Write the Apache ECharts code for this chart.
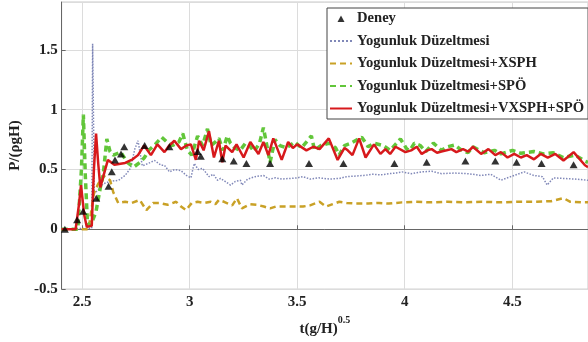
<!DOCTYPE html>
<html><head><meta charset="utf-8">
<script src="https://cdn.jsdelivr.net/npm/echarts@6/dist/echarts.min.js"></script>
<style>html,body{margin:0;padding:0;background:#fff}#c{width:588px;height:342px}</style>
</head><body><div id="c"></div>
<script>
const seriesNames = ['Deney','Yogunluk Düzeltmesi','Yogunluk Düzeltmesi+XSPH','Yogunluk Düzeltmesi+SPÖ','Yogunluk Düzeltmesi+VXSPH+SPÖ'];
const xTicks = [2.5, 3, 3.5, 4, 4.5];
const yTicks = [-0.5, 0, 0.5, 1, 1.5];

const deneyX = [2.42,2.477,2.505,2.566,2.623,2.638,2.653,2.681,2.696,2.791,2.906,3.037,3.052,3.152,3.205,3.264,3.374,3.555,3.715,3.952,4.102,4.282,4.421,4.52,4.636,4.785];
const deneyY = [0,0.08,0.15,0.26,0.36,0.48,0.58,0.63,0.69,0.70,0.69,0.65,0.61,0.59,0.57,0.55,0.55,0.55,0.55,0.55,0.56,0.57,0.57,0.56,0.55,0.54];

const blueX = [2.405,2.545,2.549,2.553,2.557,2.575,2.598,2.63,2.67,2.70,2.725,2.745,2.76,2.78,2.807,2.837,2.868,2.883,2.906,2.93,2.96,2.985,3.006,3.021,3.04,3.06,3.09,3.11,3.13,3.144,3.165,3.19,3.213,3.236,3.243,3.27,3.305,3.343,3.37,3.40,3.43,3.466,3.50,3.527,3.56,3.60,3.65,3.696,3.73,3.773,3.81,3.849,3.89,3.926,3.96,3.987,4.03,4.079,4.125,4.171,4.23,4.294,4.355,4.40,4.447,4.493,4.555,4.60,4.64,4.662,4.691,4.738,4.79,4.852];
const blueY = [0,0.01,1.55,1.55,0.3,0.33,0.38,0.40,0.41,0.45,0.51,0.67,0.74,0.53,0.55,0.575,0.535,0.535,0.48,0.50,0.49,0.45,0.43,0.55,0.50,0.51,0.44,0.46,0.41,0.425,0.40,0.37,0.40,0.41,0.37,0.42,0.44,0.45,0.42,0.43,0.42,0.425,0.43,0.44,0.42,0.43,0.42,0.425,0.44,0.445,0.45,0.46,0.455,0.465,0.47,0.48,0.465,0.48,0.485,0.465,0.47,0.465,0.45,0.46,0.41,0.44,0.48,0.45,0.44,0.37,0.43,0.425,0.42,0.41];

const goldX = [2.405,2.53,2.555,2.575,2.598,2.63,2.645,2.668,2.70,2.73,2.768,2.799,2.83,2.86,2.898,2.937,2.96,2.983,3.01,3.037,3.07,3.098,3.12,3.136,3.16,3.198,3.22,3.243,3.28,3.313,3.345,3.374,3.40,3.435,3.48,3.527,3.56,3.604,3.634,3.665,3.696,3.73,3.773,3.83,3.88,3.926,3.987,4.049,4.12,4.2,4.28,4.36,4.44,4.52,4.60,4.68,4.738,4.77,4.82,4.852];
const goldY = [0,0,0.3,0.38,0.45,0.41,0.31,0.22,0.23,0.22,0.245,0.16,0.22,0.22,0.205,0.23,0.19,0.16,0.22,0.23,0.22,0.23,0.21,0.245,0.23,0.20,0.26,0.175,0.21,0.205,0.19,0.175,0.19,0.19,0.19,0.19,0.20,0.23,0.19,0.21,0.23,0.22,0.215,0.215,0.22,0.215,0.225,0.23,0.225,0.23,0.225,0.23,0.225,0.23,0.23,0.235,0.26,0.23,0.225,0.225];

const greenX = [2.405,2.48,2.497,2.506,2.515,2.525,2.54,2.565,2.585,2.598,2.615,2.63,2.645,2.68,2.71,2.74,2.77,2.79,2.81,2.84,2.87,2.90,2.92,2.95,2.968,2.99,3.01,3.037,3.06,3.083,3.10,3.12,3.136,3.155,3.175,3.19,3.21,3.235,3.26,3.282,3.30,3.325,3.343,3.374,3.397,3.42,3.45,3.489,3.52,3.566,3.581,3.61,3.65,3.679,3.695,3.72,3.75,3.80,3.83,3.857,3.90,3.933,3.98,4.01,4.024,4.045,4.072,4.098,4.133,4.171,4.2,4.233,4.265,4.294,4.317,4.369,4.417,4.447,4.501,4.54,4.6,4.645,4.691,4.737,4.792,4.838,4.852];
const greenY = [0,0,0.5,0.96,0.45,0.05,0.03,0.15,0.35,0.45,0.755,0.65,0.62,0.645,0.56,0.52,0.56,0.6,0.66,0.71,0.77,0.72,0.70,0.73,0.80,0.66,0.62,0.78,0.70,0.84,0.70,0.73,0.76,0.66,0.78,0.72,0.68,0.66,0.72,0.69,0.65,0.72,0.85,0.56,0.75,0.70,0.68,0.73,0.68,0.78,0.66,0.70,0.72,0.68,0.62,0.70,0.72,0.77,0.69,0.72,0.70,0.66,0.755,0.67,0.66,0.72,0.70,0.65,0.72,0.66,0.69,0.705,0.66,0.64,0.69,0.64,0.66,0.63,0.66,0.635,0.65,0.63,0.64,0.60,0.62,0.57,0.56];

const redX = [2.405,2.47,2.485,2.495,2.51,2.522,2.545,2.555,2.565,2.575,2.585,2.60,2.62,2.65,2.70,2.735,2.76,2.788,2.82,2.85,2.883,2.905,2.929,2.96,2.985,3.006,3.029,3.044,3.065,3.09,3.113,3.136,3.152,3.167,3.198,3.218,3.251,3.282,3.32,3.343,3.366,3.389,3.428,3.458,3.48,3.50,3.543,3.575,3.604,3.647,3.688,3.72,3.735,3.757,3.788,3.818,3.857,3.887,3.91,3.932,3.957,4.003,4.03,4.056,4.079,4.105,4.125,4.15,4.171,4.195,4.217,4.24,4.271,4.295,4.317,4.355,4.389,4.421,4.447,4.478,4.509,4.54,4.567,4.601,4.632,4.665,4.70,4.738,4.785,4.838,4.852];
const redY = [0,0,0.2,0.37,0.12,0.02,0.03,0.5,0.8,0.55,0.35,0.45,0.58,0.54,0.555,0.585,0.62,0.70,0.62,0.71,0.645,0.70,0.74,0.67,0.70,0.71,0.58,0.74,0.66,0.82,0.60,0.74,0.56,0.70,0.645,0.71,0.60,0.73,0.63,0.73,0.62,0.76,0.58,0.73,0.68,0.71,0.66,0.69,0.67,0.76,0.58,0.68,0.66,0.62,0.76,0.60,0.71,0.63,0.67,0.63,0.69,0.645,0.66,0.69,0.63,0.66,0.67,0.64,0.65,0.66,0.67,0.645,0.67,0.65,0.69,0.63,0.67,0.62,0.645,0.60,0.63,0.60,0.62,0.585,0.63,0.60,0.63,0.575,0.645,0.535,0.52];

const zip = (xs, ys) => xs.map((x, i) => [x, ys[i]]);
const FONT = 'Liberation Serif';
const hideSym = {opacity: 0};

const chart = echarts.init(document.getElementById('c'), null, {renderer: 'canvas'});
chart.setOption({
  animation: false,
  backgroundColor: '#fff',
  grid: {left: 56, right: 0, top: 2, bottom: 50, show: true, borderColor: '#c8c8c8', borderWidth: 1},
  legend: {
    orient: 'vertical', left: 327, top: 8,
    padding: [3, 4, 3, 2], itemGap: 7.5, itemWidth: 22, itemHeight: 14,
    backgroundColor: '#fff', borderColor: '#444', borderWidth: 1,
    textStyle: {fontFamily: FONT, fontWeight: 'bold', fontSize: 14.6, color: '#222'},
    data: [
      {name: seriesNames[0], icon: 'path://M0,0M22,14M7.5,10.5L14.5,10.5L11,4Z'},
      {name: seriesNames[1], itemStyle: hideSym},
      {name: seriesNames[2], itemStyle: hideSym},
      {name: seriesNames[3], itemStyle: hideSym},
      {name: seriesNames[4], itemStyle: hideSym}
    ]
  },
  xAxis: {
    type: 'value', min: 2.405, max: 4.852,
    name: '{b|t(g/H)}{s|0.5}', nameLocation: 'middle', nameGap: 25,
    nameTextStyle: {rich: {
      b: {fontFamily: FONT, fontWeight: 'bold', fontSize: 15, color: '#222', lineHeight: 22, verticalAlign: 'bottom'},
      s: {fontFamily: FONT, fontWeight: 'bold', fontSize: 10, color: '#222', lineHeight: 12, verticalAlign: 'top'}
    }},
    axisLine: {show: true, lineStyle: {color: '#666', width: 1}},
    axisTick: {show: true, inside: true, length: 4, customValues: xTicks, lineStyle: {color: '#666'}},
    axisLabel: {customValues: xTicks, margin: 6, fontFamily: FONT, fontWeight: 'bold', fontSize: 15, color: '#222',
      formatter: v => String(+v.toFixed(2))},
    splitLine: {show: true, lineStyle: {color: '#dcdcdc', width: 1}}
  },
  yAxis: {
    type: 'value', min: -0.5, max: 1.9, interval: 0.5,
    name: 'P/(ρgH)', nameLocation: 'middle', nameGap: 34, nameRotate: 90,
    nameTextStyle: {fontFamily: FONT, fontWeight: 'bold', fontSize: 15, color: '#222'},
    axisLine: {show: true, lineStyle: {color: '#666', width: 1}},
    axisTick: {show: true, inside: true, length: 4, lineStyle: {color: '#666'}},
    axisLabel: {showMaxLabel: false, margin: 4, fontFamily: FONT, fontWeight: 'bold', fontSize: 15, color: '#222',
      formatter: v => (yTicks.includes(+v.toFixed(2)) ? String(+v.toFixed(2)) : '')},
    splitLine: {show: true, lineStyle: {color: '#dcdcdc', width: 1}}
  },
  series: [
    {name: seriesNames[1], type: 'line', data: zip(blueX, blueY), showSymbol: false, symbol: 'none', z: 2,
      lineStyle: {color: '#8088b8', width: 1.5, type: 'dotted'}, itemStyle: {color: '#8088b8'}},
    {name: seriesNames[2], type: 'line', data: zip(goldX, goldY), showSymbol: false, symbol: 'none', z: 3,
      lineStyle: {color: '#c9a126', width: 2.5, type: [6, 4]}, itemStyle: {color: '#c9a126'}},
    {name: seriesNames[3], type: 'line', data: zip(greenX, greenY), showSymbol: false, symbol: 'none', z: 4,
      lineStyle: {color: '#62c63a', width: 3.5, type: [6, 4]}, itemStyle: {color: '#62c63a'}},
    {name: seriesNames[4], type: 'line', data: zip(redX, redY), showSymbol: false, symbol: 'none', z: 5,
      lineStyle: {color: '#d7191c', width: 2.5}, itemStyle: {color: '#d7191c'}},
    {name: seriesNames[0], type: 'scatter', data: zip(deneyX, deneyY), symbol: 'triangle', symbolSize: [8, 7], z: 6,
      itemStyle: {color: '#000'}}
  ]
});
</script></body></html>
